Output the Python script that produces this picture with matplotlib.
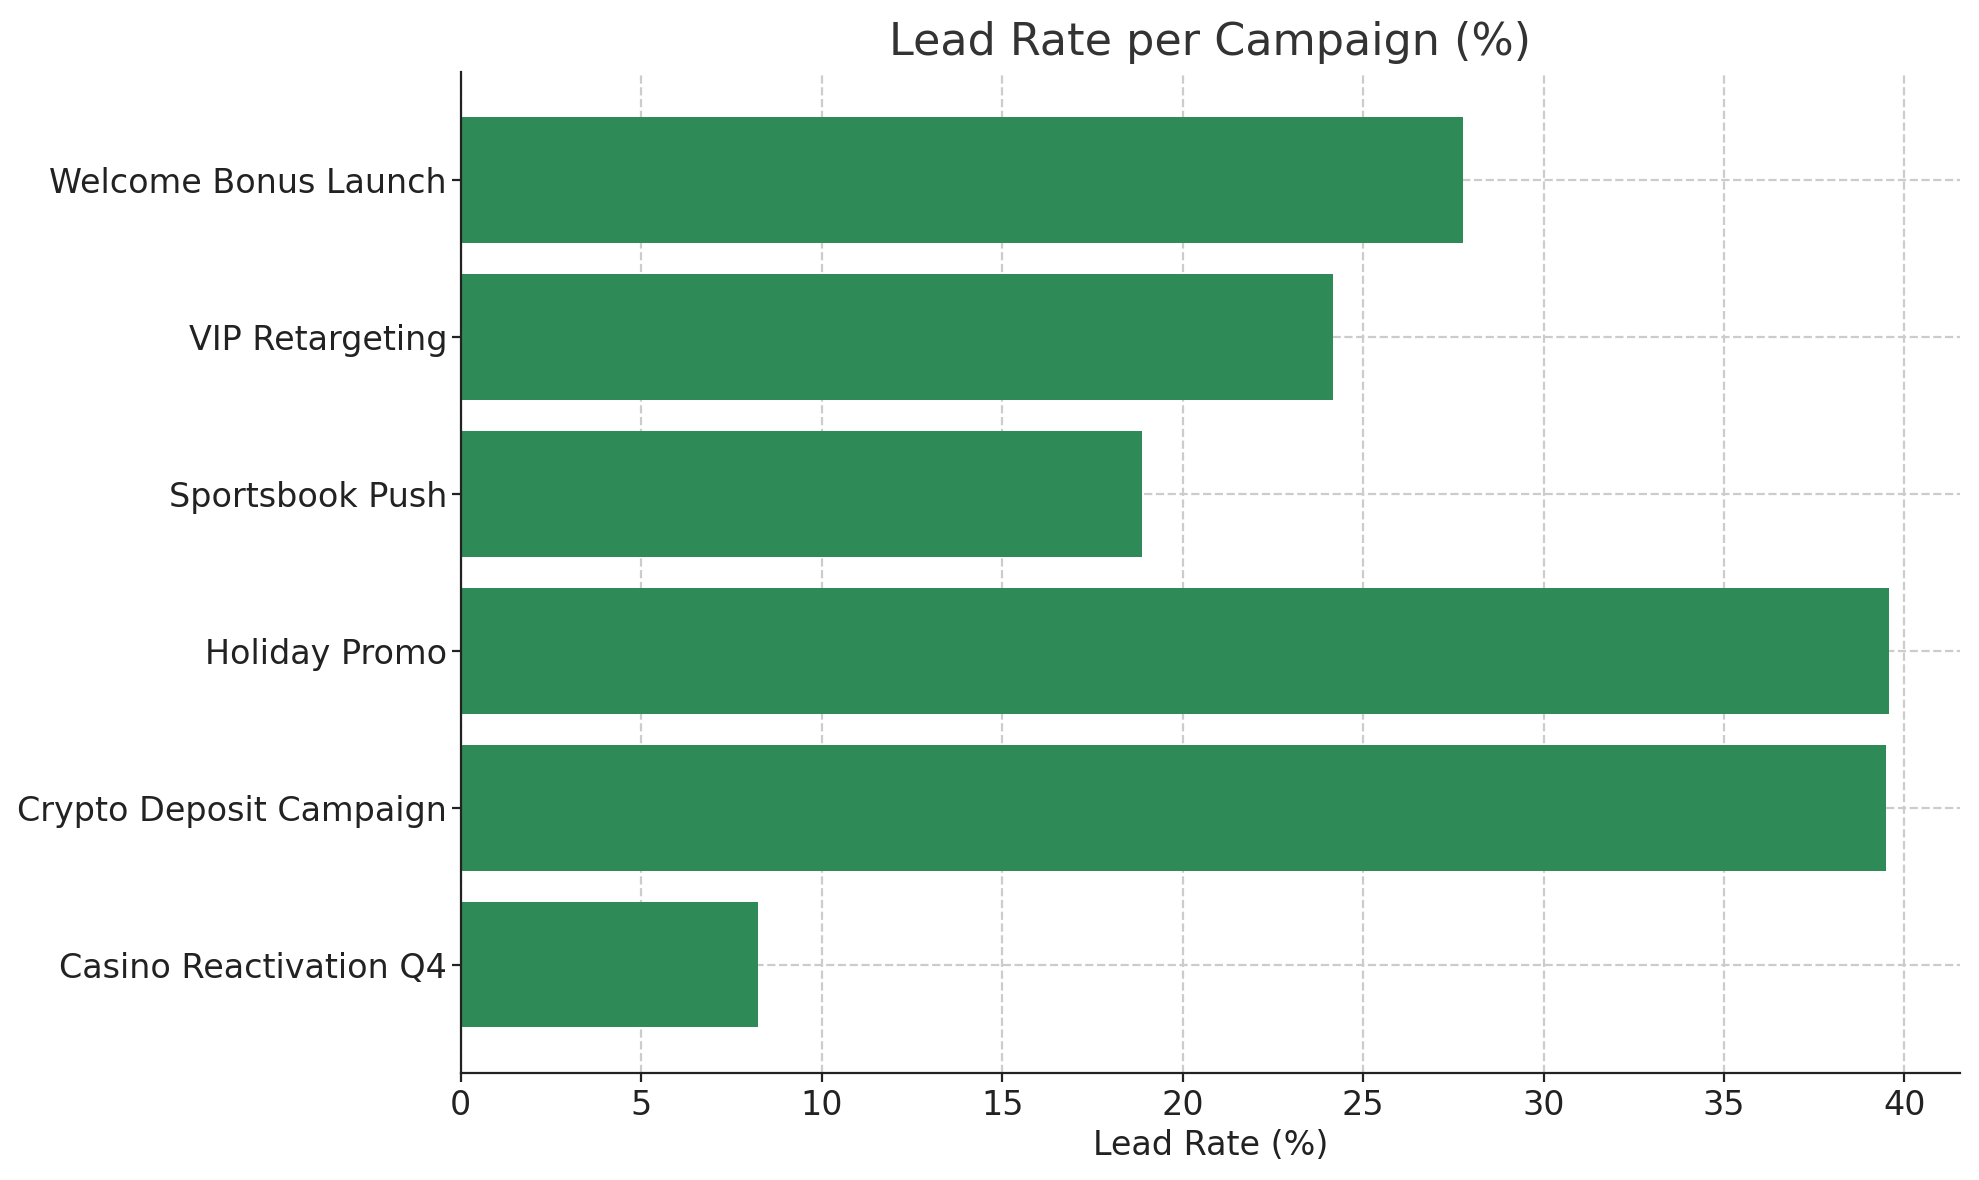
import matplotlib
matplotlib.use("Agg")
import matplotlib.pyplot as plt

campaigns = ["Casino Reactivation Q4", "Crypto Deposit Campaign", "Holiday Promo",
             "Sportsbook Push", "VIP Retargeting", "Welcome Bonus Launch"]
lead_rates = [8.25, 39.5, 39.56, 18.87, 24.16, 27.76]

fig = plt.figure(figsize=(9.895, 5.9), dpi=200)
ax = fig.add_axes([0.2328, 0.0907, 0.7576, 0.8483])
ax.barh(campaigns, lead_rates, height=0.8, color="#2E8B57", zorder=2)
ax.grid(True, linestyle="--", color="#cccccc", linewidth=0.8, zorder=0)
ax.set_axisbelow(True)
for s in ["top", "right"]:
    ax.spines[s].set_visible(False)
for s in ["left", "bottom"]:
    ax.spines[s].set_color("#222222")
ax.tick_params(labelsize=12, colors="#222222", length=3.1, pad=2.6)
ax.tick_params(axis="y", pad=1.8)
ax.set_xlabel("Lead Rate (%)", fontsize=12, color="#222222", labelpad=2.5)
ax.set_title("Lead Rate per Campaign (%)", fontsize=16, color="#333333", pad=6)
fig.savefig("out.png", dpi=200)
